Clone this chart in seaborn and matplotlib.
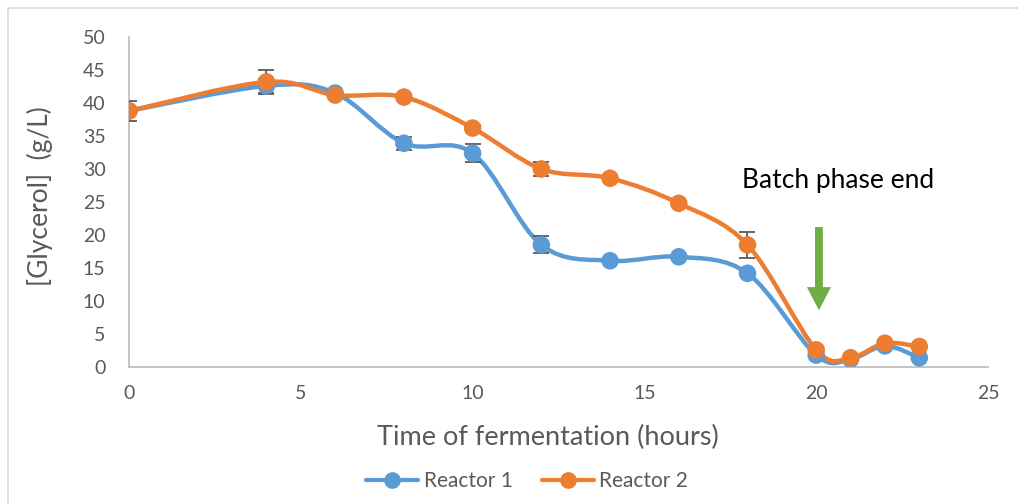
import numpy as np
import pandas as pd
import matplotlib
matplotlib.use("Agg")
import matplotlib.pyplot as plt
import seaborn as sns
from matplotlib.path import Path
from matplotlib.patches import PathPatch, FancyArrow
from matplotlib.lines import Line2D

# ---- data ----
hours = [0, 4, 6, 8, 10, 12, 14, 16, 18, 20, 21, 22, 23]
reactor1 = [38.8, 42.6, 41.5, 33.9, 32.4, 18.5, 16.1, 16.7, 14.2, 1.8, 1.2, 3.2, 1.4]
reactor2 = [38.8, 43.2, 41.2, 40.9, 36.2, 30.0, 28.6, 24.8, 18.5, 2.6, 1.4, 3.6, 3.1]
err1 = [1.5, 1.1, 0.4, 1.0, 1.4, 1.3, 0.3, 0.3, 0.3, 0.3, 0.2, 0.3, 0.2]
err2 = [0.4, 1.8, 0.4, 0.4, 0.4, 1.0, 0.3, 0.3, 2.0, 0.3, 0.2, 0.3, 0.2]
series_names = ["Reactor 1", "Reactor 2"]
x_ticks = [0, 5, 10, 15, 20, 25]
y_ticks = [0, 5, 10, 15, 20, 25, 30, 35, 40, 45, 50]
annot_text = "Batch phase end"
annot_x, annot_y = 20.63, 28.3
arrow_x, arrow_top, arrow_tip = 20.08, 21.2, 8.6

colors = ["#5B9BD5", "#ED7D31"]
tick_col = "#595959"

df = pd.DataFrame({
    "hours": hours * 2,
    "glycerol": reactor1 + reactor2,
    "reactor": [series_names[0]] * len(hours) + [series_names[1]] * len(hours),
})

sns.set_theme(style="white")
plt.rcParams["font.family"] = ["Lato", "DejaVu Sans"]

fig = plt.figure(figsize=(10.18, 5.04), dpi=100)
ax = fig.add_axes([129 / 1018, 1 - 367 / 504, (988 - 129) / 1018, (367 - 37) / 504])


def smooth_path(xs, ys):
    pts = np.column_stack([xs, ys]).astype(float)
    n = len(pts)
    verts = [pts[0]]
    codes = [Path.MOVETO]
    for i in range(n - 1):
        p0 = pts[i - 1] if i > 0 else pts[i]
        p1 = pts[i]
        p2 = pts[i + 1]
        p3 = pts[i + 2] if i + 2 < n else pts[i + 1]
        c1 = p1 + (p2 - p0) / 6.0
        c2 = p2 - (p3 - p1) / 6.0
        verts += [c1, c2, p2]
        codes += [Path.CURVE4] * 3
    return Path(verts, codes)


for name, vals, errs, col in zip(series_names, [reactor1, reactor2], [err1, err2], colors):
    ax.add_patch(PathPatch(smooth_path(hours, vals), facecolor="none", edgecolor=col,
                           lw=3.2, zorder=2, capstyle="round", joinstyle="round"))
    ax.errorbar(hours, vals, yerr=errs, fmt="none", ecolor=tick_col, elinewidth=1.3,
                capsize=6, capthick=1.3, zorder=3)

sns.scatterplot(data=df, x="hours", y="glycerol", hue="reactor", palette=colors,
                s=160, edgecolor="none", linewidth=0, ax=ax, zorder=4, legend=False)

# arrow
ax.add_patch(FancyArrow(arrow_x, arrow_top, 0, arrow_tip - arrow_top, width=0.23,
                        head_width=0.70, head_length=3.5, length_includes_head=True,
                        color="#70AD47", lw=0, zorder=5))
ax.text(annot_x, annot_y, annot_text, fontsize=19, color="black", ha="center", va="center")

ax.set_xlim(0, 25)
ax.set_ylim(0, 50)
ax.set_xticks(x_ticks)
ax.set_yticks(y_ticks)
ax.tick_params(axis="both", length=0, labelsize=14, colors=tick_col)
ax.tick_params(axis="y", pad=17)
ax.tick_params(axis="x", pad=13)
for s in ["top", "right"]:
    ax.spines[s].set_visible(False)
for s in ["left", "bottom"]:
    ax.spines[s].set_color("#BFBFBF")
    ax.spines[s].set_linewidth(1.3)
ax.set_xlabel("Time of fermentation (hours)", fontsize=19.5, color=tick_col)
ax.xaxis.label.set_va("center")
ax.xaxis.set_label_coords((548 - 129) / 859, (367 - 437) / 330)
ax.set_ylabel("[Glycerol]  (g/L)", fontsize=19, color=tick_col)
ax.yaxis.label.set_va("center")
ax.yaxis.set_label_coords((40 - 129) / 859, (367 - 196) / 330)

handles = [Line2D([0], [0], color=c, lw=3, marker="o", markersize=11) for c in colors]
fig.legend(handles, series_names, loc="center", bbox_to_anchor=(527 / 1018, 1 - 481 / 504),
           ncol=2, frameon=False, fontsize=15, labelcolor=tick_col, handlelength=2.5,
           columnspacing=1.4, handletextpad=0.25)

# figure frame (left and top visible)
fig.add_artist(Line2D([8 / 1018, 8 / 1018], [0, 1 - 8 / 504], color="#D9D9D9", lw=1.2,
                      transform=fig.transFigure))
fig.add_artist(Line2D([8 / 1018, 1], [1 - 8 / 504, 1 - 8 / 504], color="#D9D9D9", lw=1.2,
                      transform=fig.transFigure))

fig.savefig("out.png", dpi=100)
